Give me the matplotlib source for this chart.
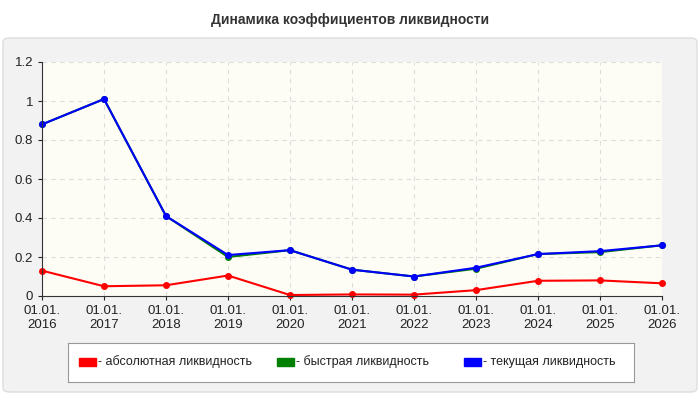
import matplotlib
matplotlib.use("Agg")
import matplotlib.pyplot as plt
from matplotlib.patches import FancyBboxPatch
plt.rcParams['font.family'] = ['Liberation Sans', 'DejaVu Sans']

labels = ["01.01.\n2016","01.01.\n2017","01.01.\n2018","01.01.\n2019","01.01.\n2020","01.01.\n2021",
          "01.01.\n2022","01.01.\n2023","01.01.\n2024","01.01.\n2025","01.01.\n2026"]
absolute = [0.13,0.05,0.055,0.105,0.005,0.008,0.007,0.03,0.078,0.08,0.065]
quick = [0.88,1.01,0.41,0.20,0.235,0.135,0.10,0.14,0.215,0.225,0.26]
current = [0.88,1.01,0.41,0.21,0.235,0.135,0.10,0.145,0.215,0.23,0.26]
names = ["- абсолютная ликвидность","- быстрая ликвидность","- текущая ликвидность"]
colors = ["#ff0000","#008000","#0000ff"]

fig = plt.figure(figsize=(7,4), dpi=100)
fig.patch.set_facecolor("white")
bg = FancyBboxPatch((3/700,8/400),694/700,354/400,boxstyle="round,pad=0,rounding_size=0.01",
    transform=fig.transFigure, facecolor="#f2f2f2", edgecolor="#dddddd", lw=1, zorder=-10)
fig.patches.append(bg)
fig.text(0.5,0.95,"Динамика коэффициентов ликвидности",ha="center",va="center",fontsize=10,fontweight="bold",color="#333333")
ax = fig.add_axes([42/700,104/400,620/700,234/400])
ax.set_facecolor("#fdfdf6")
x = range(len(labels))
for s,c in zip([absolute,quick,current],colors):
    ax.plot(x,s,color=c,lw=1.5,marker="o",ms=4,clip_on=False)
ax.set_xlim(0,10); ax.set_ylim(0,1.2)
ax.set_yticks([0,0.2,0.4,0.6,0.8,1,1.2]); ax.set_yticklabels(["0","0.2","0.4","0.6","0.8","1","1.2"])
ax.set_xticks(list(x)); ax.set_xticklabels(labels)
ax.tick_params(labelsize=9.5,colors="#222222",length=3)
ax.grid(True,ls=(0,(4,4)),color="#dddddd",lw=0.8)
for sp in ["top","right"]: ax.spines[sp].set_visible(False)
ax.spines["left"].set_color("#333333"); ax.spines["bottom"].set_color("#333333")
lax = fig.add_axes([68/700,18/400,566/700,39/400])
lax.set_xticks([]); lax.set_yticks([]); lax.set_facecolor("white")
for sp in lax.spines.values(): sp.set_color("#999999")
for xp,n,c in zip([0.02,0.37,0.70],names,colors):
    lax.add_patch(plt.Rectangle((xp,0.42),0.03,0.2,color=c,transform=lax.transAxes))
    lax.text(xp+0.033,0.52,n,fontsize=9,va="center",transform=lax.transAxes,color="#222222")
fig.savefig("out.png",dpi=100)
